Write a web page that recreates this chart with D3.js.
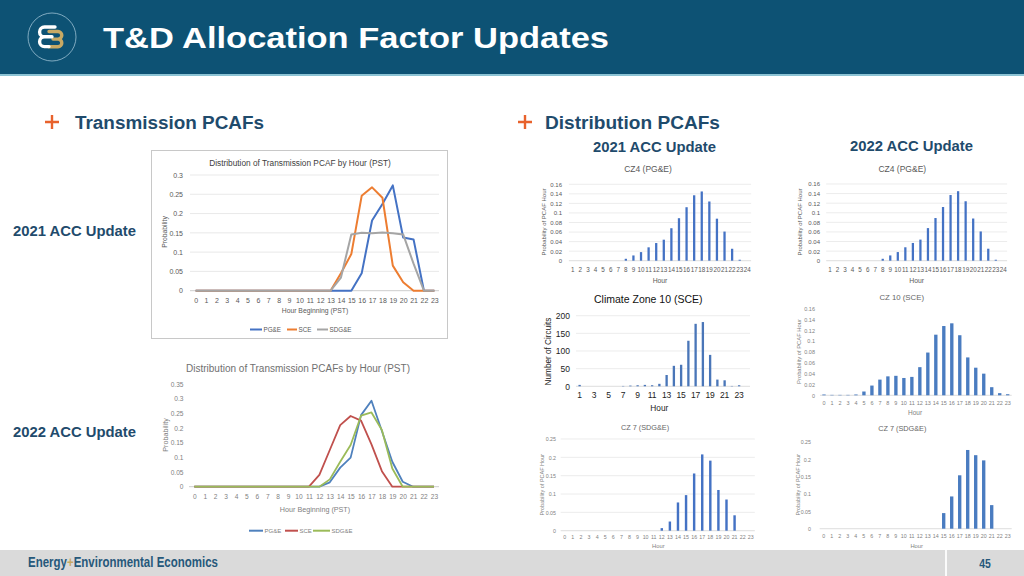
<!DOCTYPE html>
<html>
<head>
<meta charset="utf-8">
<script src="https://cdn.jsdelivr.net/npm/d3@7"></script>
<style>
html,body{margin:0;padding:0;background:#fff;}
svg{display:block;}
text{font-family:"Liberation Sans",Arial,sans-serif;}
</style>
</head>
<body>
<svg id="slide" width="1024" height="576"></svg>
<script>
// ---------- DATA ----------
const hours0to23 = [0,1,2,3,4,5,6,7,8,9,10,11,12,13,14,15,16,17,18,19,20,21,22,23];
const hours1to24 = [1,2,3,4,5,6,7,8,9,10,11,12,13,14,15,16,17,18,19,20,21,22,23,24];
const transSeries = ["PG&E","SCE","SDG&E"];

// Transmission PCAFs, 2021 ACC update (hours 0..23)
const tx2021PGE  = [0,0,0,0,0,0,0,0,0,0,0,0,0,0,0,0,0.045,0.182,0.225,0.273,0.138,0.133,0,0];
const tx2021SCE  = [0,0,0,0,0,0,0,0,0,0,0,0,0,0,0.045,0.095,0.246,0.268,0.241,0.065,0.022,0,0,0];
const tx2021SDGE = [0,0,0,0,0,0,0,0,0,0,0,0,0,0,0.034,0.146,0.150,0.149,0.151,0.149,0.146,0.070,0,0];
const tx2021Ticks = [0,0.05,0.1,0.15,0.2,0.25,0.3];

// Transmission PCAFs, 2022 ACC update (hours 0..23)
const tx2022PGE  = [0,0,0,0,0,0,0,0,0,0,0,0,0,0.015,0.065,0.099,0.244,0.293,0.19,0.085,0.017,0,0,0];
const tx2022SCE  = [0,0,0,0,0,0,0,0,0,0,0,0,0.04,0.125,0.21,0.241,0.225,0.144,0.053,0,0,0,0,0];
const tx2022SDGE = [0,0,0,0,0,0,0,0,0,0,0,0,0,0.025,0.085,0.142,0.242,0.253,0.193,0.062,0,0,0,0];
const tx2022Ticks = [0,0.05,0.1,0.15,0.2,0.25,0.3,0.35];

// Distribution PCAFs
const cz4Values2021   = [0,0,0,0,0,0,0,0.004,0.011,0.018,0.028,0.037,0.044,0.068,0.089,0.112,0.137,0.145,0.124,0.088,0.061,0.025,0.002,0];
const cz4Values2022   = [0,0,0,0,0,0,0,0.004,0.011,0.018,0.028,0.037,0.044,0.068,0.089,0.112,0.137,0.145,0.124,0.088,0.061,0.025,0.002,0];
const cz4Ticks        = [0,0.02,0.04,0.06,0.08,0.1,0.12,0.14,0.16];
const cz10Circuits2021 = [4,0,0,0,0,0,1,2,3,4,3,7,32,58,61,129,177,182,89,19,17,1,3,0];
const cz10CircuitTicks = [0,50,100,150,200];
const cz10XTickLabels  = [1,3,5,7,9,11,13,15,17,19,21,23];
const cz10Values2022  = [0.0015,0.0008,0.0008,0.0008,0.0015,0.007,0.018,0.029,0.035,0.036,0.032,0.034,0.052,0.079,0.112,0.128,0.133,0.111,0.070,0.051,0.040,0.015,0.004,0.002];
const cz10Ticks       = [0,0.02,0.04,0.06,0.08,0.1,0.12,0.14,0.16];
const cz7Values2021   = [0,0,0,0,0,0,0,0,0,0,0,0,0.007,0.025,0.077,0.097,0.156,0.208,0.191,0.111,0.085,0.042,0,0];
const cz7Values2022   = [0,0,0,0,0,0,0,0,0,0,0,0,0,0,0,0.045,0.093,0.154,0.227,0.212,0.197,0.068,0,0];
const cz7Ticks        = [0,0.05,0.1,0.15,0.2,0.25];

// ---------- DRAWING ----------
const svg = d3.select("#slide");
const navy = "#1f4b6c";
const chartFont = "Lato, 'Open Sans', sans-serif";

// Header band
svg.append("rect").attr("x",0).attr("y",0).attr("width",1024).attr("height",74).attr("fill","#0d5274");
svg.append("rect").attr("x",0).attr("y",74).attr("width",1024).attr("height",2).attr("fill","#8cc3d4");
// Logo
svg.append("circle").attr("cx",52).attr("cy",37).attr("r",24).attr("fill","none").attr("stroke","#9cc0d3").attr("stroke-width",0.8);
svg.append("path").attr("d","M49,31.5 H58 A3.8,3.8 0 0 1 58,39.1 H53 M58,39.1 A3.8,3.8 0 0 1 58,46.7 H49")
  .attr("fill","none").attr("stroke","#c8a964").attr("stroke-width",3.4).attr("stroke-linecap","round");
svg.append("path").attr("d","M55,27 H44.5 A4.9,4.9 0 0 0 44.5,36.8 H52 M44.5,36.8 A4.9,4.9 0 0 0 44.5,46.6 H49")
  .attr("fill","none").attr("stroke","#ffffff").attr("stroke-width",3.4).attr("stroke-linecap","round");
svg.append("text").attr("x",103).attr("y",48).attr("fill","#fff").attr("font-size",29).attr("font-weight","bold")
  .attr("textLength",506).attr("lengthAdjust","spacingAndGlyphs").text("T&D Allocation Factor Updates");

// Section headings
function plus(cx, cy){
  svg.append("path").attr("d",`M${cx-7},${cy} H${cx+7} M${cx},${cy-7} V${cy+7}`)
    .attr("stroke","#e8622c").attr("stroke-width",2.4);
}
plus(52,122); plus(525,122);
svg.append("text").attr("x",75).attr("y",129).attr("fill",navy).attr("font-size",17.5).attr("font-weight","bold")
  .attr("textLength",189).attr("lengthAdjust","spacingAndGlyphs").text("Transmission PCAFs");
svg.append("text").attr("x",545).attr("y",129).attr("fill",navy).attr("font-size",17.5).attr("font-weight","bold")
  .attr("textLength",175).attr("lengthAdjust","spacingAndGlyphs").text("Distribution PCAFs");
function label(x,y,t){
  svg.append("text").attr("x",x).attr("y",y).attr("fill",navy).attr("font-size",14).attr("font-weight","bold")
    .attr("textLength",123).attr("lengthAdjust","spacingAndGlyphs").text(t);
}
label(593,152,"2021 ACC Update");
label(850,151,"2022 ACC Update");
label(13,236,"2021 ACC Update");
label(13,437,"2022 ACC Update");

// ---------- line chart ----------
function lineChart(o){
  const g = svg.append("g");
  const x = d3.scaleLinear().domain([0,23]).range(o.xRange);
  const y = d3.scaleLinear().domain(o.yDomain).range(o.yRange);
  if (o.border) g.append("rect").attr("x",151.5).attr("y",150.5).attr("width",296).attr("height",188)
      .attr("fill","none").attr("stroke","#c8c8c8").attr("stroke-width",1);
  o.ticks.forEach(t=>{
    if (t===0 || o.grid) g.append("line").attr("x1",o.gridX[0]).attr("x2",o.gridX[1])
      .attr("y1",y(t)).attr("y2",y(t)).attr("stroke", t===0 ? "#bfbfbf" : "#e3e3e3").attr("stroke-width",0.8);
  });
  const ya = d3.axisLeft(y).tickValues(o.ticks).tickSize(0).tickPadding(0).tickFormat(d=>String(+d.toFixed(2)));
  const yg = g.append("g").attr("transform",`translate(${o.yLabelX},0)`).call(ya);
  yg.select(".domain").remove();
  yg.selectAll("text").attr("font-family",chartFont).attr("font-size",o.tickSize).attr("fill",o.textColor);
  const xa = d3.axisBottom(x).tickValues(hours0to23).tickSize(0).tickPadding(0).tickFormat(d3.format("d"));
  const xg = g.append("g").attr("transform",`translate(0,${o.xLabelY})`).call(xa);
  xg.select(".domain").remove();
  xg.selectAll("text").attr("font-family",chartFont).attr("font-size",o.tickSize).attr("fill",o.textColor).attr("dy","0.35em");
  const line = d3.line().x((d,i)=>x(hours0to23[i])).y(d=>y(d));
  o.series.forEach((s,i)=>{
    g.append("path").datum(s).attr("d",line).attr("fill","none").attr("stroke",o.colors[i])
      .attr("stroke-width",o.lineWidth).attr("stroke-linejoin","round");
  });
  g.append("text").attr("x",o.titlePos[0]).attr("y",o.titlePos[1]).attr("text-anchor","middle")
    .attr("font-family",chartFont).attr("font-size",o.titleSize).attr("fill",o.titleColor).text(o.title);
  g.append("text").attr("transform",`translate(${o.yTitlePos[0]},${o.yTitlePos[1]}) rotate(-90)`).attr("text-anchor","middle")
    .attr("dy","0.35em").attr("font-family",chartFont).attr("font-size",o.axisTitleSize).attr("fill",o.textColor).text("Probability");
  g.append("text").attr("x",o.xTitlePos[0]).attr("y",o.xTitlePos[1]).attr("text-anchor","middle").attr("dy","0.35em")
    .attr("font-family",chartFont).attr("font-size",o.axisTitleSize).attr("fill",o.textColor).text("Hour Beginning (PST)");
  transSeries.forEach((n,i)=>{
    const L = o.legend[i];
    g.append("line").attr("x1",L[0]).attr("x2",L[1]).attr("y1",o.legendY).attr("y2",o.legendY)
      .attr("stroke",o.colors[i]).attr("stroke-width",2);
    g.append("text").attr("x",L[1]+1.5).attr("y",o.legendY).attr("dy","0.35em").attr("font-family",chartFont)
      .attr("font-size",o.legendSize).attr("fill",o.textColor).text(n);
  });
}

lineChart({
  border:true, xRange:[195.7,434.3], yDomain:[0,0.3], yRange:[290.7,175], ticks:tx2021Ticks, grid:true,
  gridX:[190,439], yLabelX:183, xLabelY:300.5, tickSize:7, textColor:"#595959",
  series:[tx2021PGE,tx2021SCE,tx2021SDGE], colors:["#4472c4","#ed7d31","#a5a5a5"], lineWidth:2,
  title:"Distribution of Transmission PCAF by Hour (PST)", titlePos:[300,165.5], titleSize:8.3, titleColor:"#404040",
  yTitlePos:[164.5,232], xTitlePos:[315,311], axisTitleSize:6.8,
  legend:[[250,262],[287,297],[317,328]], legendY:329.5, legendSize:6.3
});
lineChart({
  border:false, xRange:[194.3,434], yDomain:[0,0.35], yRange:[486.7,384], ticks:tx2022Ticks, grid:false,
  gridX:[189,439], yLabelX:183.5, xLabelY:497, tickSize:6.6, textColor:"#7f7f7f",
  series:[tx2022PGE,tx2022SCE,tx2022SDGE], colors:["#4f81bd","#c0504d","#9bbb59"], lineWidth:1.8,
  title:"Distribution of Transmission PCAFs by Hour (PST)", titlePos:[298,372], titleSize:10, titleColor:"#707070",
  yTitlePos:[165,435], xTitlePos:[315,509.5], axisTitleSize:7.2,
  legend:[[249,263],[285,298],[313,330]], legendY:530.7, legendSize:6
});

// ---------- bar chart ----------
function barChart(o){
  const g = svg.append("g");
  const x = d3.scaleBand().domain(o.cats).range(o.xRange).paddingInner(o.pad).paddingOuter(o.pad/2);
  const y = d3.scaleLinear().domain(o.yDomain).range(o.yRange);
  o.ticks.forEach(t=>{
    if (t===0 || o.grid) g.append("line").attr("x1",o.xRange[0]).attr("x2",o.xRange[1]).attr("y1",y(t)).attr("y2",y(t))
      .attr("stroke", t===0 ? "#cfcfcf" : "#e4e4e4").attr("stroke-width",0.7);
  });
  g.selectAll("rect.bar").data(o.values).join("rect").attr("class","bar")
    .attr("x",(d,i)=>x(o.cats[i])).attr("width",x.bandwidth())
    .attr("y",d=>y(d)).attr("height",d=>y(0)-y(d)).attr("fill",o.color);
  const ya = d3.axisLeft(y).tickValues(o.ticks).tickSize(0).tickPadding(0).tickFormat(d=>String(+d.toFixed(2)));
  const yg = g.append("g").attr("transform",`translate(${o.yLabelX},0)`).call(ya);
  yg.select(".domain").remove();
  yg.selectAll("text").attr("font-family",o.font).attr("font-size",o.tickSize).attr("fill",o.textColor);
  const xa = d3.axisBottom(x).tickValues(o.xTicks || o.cats).tickSize(0).tickPadding(0);
  const xg = g.append("g").attr("transform",`translate(0,${o.xLabelY})`).call(xa);
  xg.select(".domain").remove();
  xg.selectAll("text").attr("font-family",o.font).attr("font-size",o.xTickSize||o.tickSize).attr("fill",o.textColor).attr("dy","0.35em");
  g.append("text").attr("x",o.titlePos[0]).attr("y",o.titlePos[1]).attr("text-anchor","middle").attr("dy","0.35em")
    .attr("font-family",o.font).attr("font-size",o.titleSize).attr("fill",o.titleColor).text(o.title);
  g.append("text").attr("transform",`translate(${o.yTitlePos[0]},${o.yTitlePos[1]}) rotate(-90)`).attr("text-anchor","middle")
    .attr("dy","0.35em").attr("font-family",o.font).attr("font-size",o.yTitleSize).attr("fill",o.textColor).text(o.yTitle);
  g.append("text").attr("x",o.xTitlePos[0]).attr("y",o.xTitlePos[1]).attr("text-anchor","middle").attr("dy","0.35em")
    .attr("font-family",o.font).attr("font-size",o.xTitleSize).attr("fill",o.textColor).text("Hour");
}

const pcafTitle = "Probability of PCAF Hour";
barChart({cats:hours1to24, values:cz4Values2021, xRange:[568.9,751.1], pad:0.7, yDomain:[0,0.16], yRange:[260.7,184.3],
  ticks:cz4Ticks, grid:true, color:"#4472c4", yLabelX:562, xLabelY:269.5, tickSize:6, xTickSize:6.3, font:chartFont, textColor:"#595959",
  title:"CZ4 (PG&E)", titlePos:[648,169.5], titleSize:8.5, titleColor:"#595959",
  yTitle:pcafTitle, yTitlePos:[543.5,222], yTitleSize:6, xTitlePos:[660,281], xTitleSize:6.8});
barChart({cats:hours1to24, values:cz4Values2022, xRange:[826.2,1007.1], pad:0.7, yDomain:[0,0.16], yRange:[260.7,184],
  ticks:cz4Ticks, grid:true, color:"#4472c4", yLabelX:820, xLabelY:269.5, tickSize:6, xTickSize:6.3, font:chartFont, textColor:"#595959",
  title:"CZ4 (PG&E)", titlePos:[902.3,169.5], titleSize:8.5, titleColor:"#595959",
  yTitle:pcafTitle, yTitlePos:[800,222], yTitleSize:6, xTitlePos:[916.7,281], xTitleSize:6.8});
barChart({cats:hours1to24, values:cz10Circuits2021, xRange:[576,750], pad:0.68, yDomain:[0,200], yRange:[386.3,315.7],
  ticks:cz10CircuitTicks, grid:true, xTicks:cz10XTickLabels, color:"#4a76b8", yLabelX:570, xLabelY:395.5, tickSize:8.5,
  font:"'Liberation Sans', Arial, sans-serif", textColor:"#222",
  title:"Climate Zone 10 (SCE)", titlePos:[648.3,299], titleSize:10.5, titleColor:"#111",
  yTitle:"Number of Circuits", yTitlePos:[548.5,351.5], yTitleSize:8.2, xTitlePos:[659.3,408], xTitleSize:8.3});
barChart({cats:hours0to23, values:cz10Values2022, xRange:[820,1011.7], pad:0.58, yDomain:[0,0.16], yRange:[395.3,308.7],
  ticks:cz10Ticks, grid:false, color:"#4a7cc0", yLabelX:815, xLabelY:403, tickSize:5.5, font:chartFont, textColor:"#7f7f7f",
  title:"CZ 10 (SCE)", titlePos:[901.7,297.5], titleSize:7.8, titleColor:"#666",
  yTitle:pcafTitle, yTitlePos:[798.5,351.5], yTitleSize:5.8, xTitlePos:[915,412.5], xTitleSize:6.5});
barChart({cats:hours0to23, values:cz7Values2021, xRange:[560.7,754.8], pad:0.7, yDomain:[0,0.25], yRange:[530.7,439],
  ticks:cz7Ticks, grid:true, color:"#4472c4", yLabelX:556, xLabelY:537, tickSize:5.3, font:chartFont, textColor:"#7f7f7f",
  title:"CZ 7 (SDG&E)", titlePos:[645,427.5], titleSize:7.3, titleColor:"#666",
  yTitle:pcafTitle, yTitlePos:[541.7,484.7], yTitleSize:5.5, xTitlePos:[658.3,546], xTitleSize:5.8});
barChart({cats:hours0to23, values:cz7Values2022, xRange:[819.7,1011.7], pad:0.58, yDomain:[0,0.25], yRange:[528.7,442],
  ticks:cz7Ticks, grid:false, color:"#4a7cc0", yLabelX:811, xLabelY:536.5, tickSize:5.3, font:chartFont, textColor:"#7f7f7f",
  title:"CZ 7 (SDG&E)", titlePos:[902.3,428], titleSize:7.3, titleColor:"#666",
  yTitle:pcafTitle, yTitlePos:[798.3,484.7], yTitleSize:5.5, xTitlePos:[916.7,546], xTitleSize:5.8});

// ---------- footer ----------
svg.append("rect").attr("x",0).attr("y",550).attr("width",1024).attr("height",26).attr("fill","#dadada");
svg.append("rect").attr("x",945).attr("y",550).attr("width",2).attr("height",26).attr("fill","#fafafa");
const footG = svg.append("g");
const ft = footG.append("text").attr("x",0).attr("y",0).attr("font-size",14.5).attr("font-weight","bold");
ft.append("tspan").attr("fill","#26587a").text("Energy");
ft.append("tspan").attr("fill","#c8a964").text("+");
ft.append("tspan").attr("fill","#26587a").text("Environmental Economics");
const natural = ft.node().getComputedTextLength();
footG.attr("transform",`translate(28,567) scale(${190/natural},1)`);
const pg = svg.append("g");
const pn = pg.append("text").attr("x",0).attr("y",0).attr("text-anchor","middle").attr("font-size",13).attr("font-weight","bold")
  .attr("fill","#26587a").text("45");
pg.attr("transform","translate(985,567.5) scale(0.8,1)");
</script>
</body>
</html>
